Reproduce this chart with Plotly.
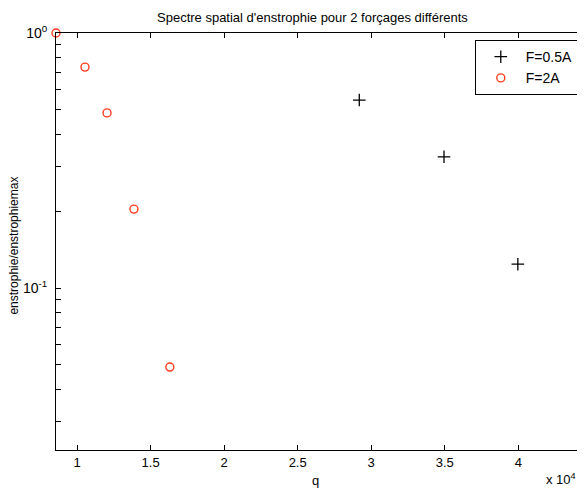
import plotly.graph_objects as go

# data
q_05A = [29190, 34950, 39970]
ens_05A = [0.546, 0.327, 0.124]

q_2A = [8570, 10540, 12040, 13870, 16310]
ens_2A = [1.0, 0.735, 0.486, 0.204, 0.049]

x_tickvals = [10000, 15000, 20000, 25000, 30000, 35000, 40000]
x_ticktext = ["1", "1.5", "2", "2.5", "3", "3.5", "4"]

y_major = [1.0, 0.1]
y_minor = [0.03, 0.04, 0.05, 0.06, 0.07, 0.08, 0.09,
           0.2, 0.3, 0.4, 0.5, 0.6, 0.7, 0.8, 0.9]

FONT = "Liberation Sans, Arial, sans-serif"
RED = "#ff3c1e"

fig = go.Figure()

fig.add_trace(go.Scatter(
    x=q_05A, y=ens_05A, mode="markers", name="F=0.5A",
    marker=dict(symbol="cross-thin", size=9, color="black",
                line=dict(color="black", width=1.3)),
    cliponaxis=False,
))
fig.add_trace(go.Scatter(
    x=q_2A, y=ens_2A, mode="markers", name="F=2A",
    marker=dict(symbol="circle-open", size=8, color=RED,
                line=dict(color=RED, width=1.4)),
    cliponaxis=False,
))

yvals = y_major + y_minor
ytext = ["10<sup>0</sup>", "10<sup>-1</sup>"] + [""] * len(y_minor)

# page body has an 8px margin, so the figure is a bit smaller than the window
fig.update_layout(
    width=577, height=480,
    margin=dict(l=48, r=2, t=25, b=38, autoexpand=False),
    plot_bgcolor="white", paper_bgcolor="white",
    font=dict(family=FONT, size=12, color="black"),
    showlegend=True,
    legend=dict(x=0.992, xanchor="right", y=0.983, yanchor="top",
                bordercolor="black", borderwidth=1, bgcolor="white",
                font=dict(size=14), itemwidth=40,
                tracegroupgap=0),
    xaxis=dict(
        range=[8570, 44400], tickvals=x_tickvals, ticktext=x_ticktext,
        ticks="inside", ticklen=5, tickcolor="black",
        showline=True, linecolor="black", linewidth=1, mirror="ticks",
        showgrid=False, zeroline=False, automargin=False,
        tickfont=dict(size=13),
    ),
    yaxis=dict(
        type="log", range=[-1.635, 0],
        tickvals=yvals, ticktext=ytext,
        ticks="inside", ticklen=5, tickcolor="black",
        showline=True, linecolor="black", linewidth=1, mirror="ticks",
        showgrid=False, zeroline=False, automargin=False,
        tickfont=dict(size=14), ticklabelstandoff=5,
    ),
)

fig.add_annotation(
    text="Spectre spatial d'enstrophie pour 2 forçages différents",
    xref="paper", yref="paper", x=0.486, y=1.038,
    xanchor="center", yanchor="middle", showarrow=False,
    font=dict(size=13),
)
fig.add_annotation(
    text="enstrophie/enstrophiemax", textangle=-90,
    xref="paper", yref="paper", x=-0.079, y=0.491,
    xanchor="center", yanchor="middle", showarrow=False,
    font=dict(size=12),
)
fig.add_annotation(
    text="q", xref="paper", yref="paper", x=0.493, y=-0.074,
    xanchor="center", yanchor="middle", showarrow=False,
    font=dict(size=13),
)
fig.add_annotation(
    text="x 10<sup>4</sup>", xref="paper", yref="paper",
    x=0.99, y=-0.07, xanchor="right", yanchor="middle",
    showarrow=False, font=dict(size=13),
)

fig.write_html("out.html")
